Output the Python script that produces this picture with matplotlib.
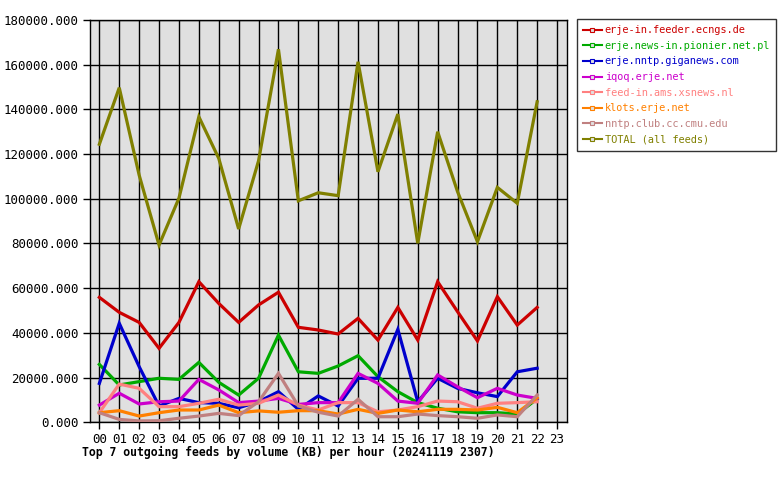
import matplotlib
matplotlib.use('Agg')
import matplotlib.pyplot as plt
from matplotlib.lines import Line2D

hours = ['00', '01', '02', '03', '04', '05', '06', '07', '08', '09', '10', '11',
         '12', '13', '14', '15', '16', '17', '18', '19', '20', '21', '22', '23']

feeds = ['erje-in.feeder.ecngs.de', 'erje.news-in.pionier.net.pl',
         'erje.nntp.giganews.com', 'iqoq.erje.net', 'feed-in.ams.xsnews.nl',
         'klots.erje.net', 'nntp.club.cc.cmu.edu', 'TOTAL (all feeds)']
colors = ['#cc0000', '#00aa00', '#0000cc', '#cc00cc', '#ff8080',
          '#ff8000', '#c08080', '#808000']

# KB per hour, hours 00..22
ecngs = [55900, 49200, 44700, 33100, 44700, 62900, 53200, 44700, 52500, 58200, 42500, 41300,
         39500, 46500, 36800, 51400, 36800, 62900, 49500, 36400, 56200, 43500, 51400]
pionier = [25900, 16700, 18200, 19700, 19200, 26800, 17900, 12200, 19700, 39000, 22600, 21900,
           25200, 29800, 20400, 13700, 8800, 6300, 4700, 4300, 4300, 3700, 10500]
giganews = [17400, 44300, 24900, 7300, 10700, 8800, 8500, 6500, 9200, 13700, 5800, 11800,
            7300, 19700, 19700, 41600, 9200, 19700, 15200, 13200, 11500, 22600, 24200]
iqoq = [7700, 13000, 8200, 9200, 9500, 19200, 14500, 8800, 9500, 10700, 8000, 8800,
        8800, 21900, 17400, 9500, 8500, 21200, 15900, 11000, 15200, 12200, 10700]
xsnews = [4300, 17100, 15200, 7000, 7000, 8500, 10300, 7700, 8500, 12200, 7700, 5500,
          8800, 8800, 4700, 5500, 7000, 9500, 9200, 6300, 8500, 8800, 9200]
klots = [4300, 5200, 2800, 4300, 5500, 5500, 7700, 4300, 5100, 4500, 5200, 5200,
         3700, 5800, 4000, 5500, 4700, 5800, 5800, 5500, 6700, 4300, 11000]
cmu = [4300, 1300, 600, 700, 1800, 2800, 4000, 3000, 9200, 21900, 7300, 4500,
       2800, 10300, 2500, 2500, 3700, 3000, 2500, 1800, 3300, 2500, 12200]
total = [124400, 149700, 110600, 79300, 100300, 136700, 118100, 86500, 117000, 166900, 99100, 102700,
         101400, 161300, 112100, 137900, 80100, 130000, 103200, 80800, 105100, 98000, 143400]

series = [ecngs, pionier, giganews, iqoq, xsnews, klots, cmu, total]
yticks = list(range(0, 180001, 20000))

mono = 'DejaVu Sans Mono'

fig = plt.figure(figsize=(7.8, 4.8), dpi=100)
ax = fig.add_axes([90 / 780, 1 - 422.3 / 480, 477 / 780, 402.3 / 480])
ax.set_facecolor('#e0e0e0')

x = list(range(len(total)))
for vals, col in zip(series, colors):
    ax.plot(x, vals, color=col, lw=2.3, solid_joinstyle='miter', zorder=3)

ax.set_xlim(-0.47, 23.5)
ax.set_ylim(0, 180000)
ax.set_xticks(range(len(hours)))
ax.set_xticklabels(hours, family=mono, fontsize=9)
ax.set_yticks(yticks)
ax.set_yticklabels(['%d.000' % v for v in yticks], family=mono, fontsize=9)
ax.grid(True, color='black', lw=1, zorder=1)
ax.set_axisbelow(True)
ax.tick_params(direction='out', length=5, width=1, color='black', pad=3)
for s in ax.spines.values():
    s.set_color('black')
    s.set_linewidth(1)

fig.text(82 / 780, 1 - 452 / 480, 'Top 7 outgoing feeds by volume (KB) per hour (20241119 2307)',
         family=mono, fontsize=8.3, fontweight='bold', va='center', ha='left')

handles = [Line2D([], [], color=c, lw=1.5, marker='s', markersize=3,
                  markerfacecolor='#e0e0e0', markeredgecolor=c, markeredgewidth=0.8)
           for c in colors]
leg = fig.legend(handles, feeds, loc='upper left', bbox_to_anchor=(577 / 780, 1 - 19 / 480),
                 frameon=True, fancybox=False, prop={'family': mono, 'size': 7.4},
                 handlelength=1.8, handletextpad=0.3, labelspacing=0.55,
                 borderpad=0.6, borderaxespad=0)
leg.get_frame().set_edgecolor('black')
leg.get_frame().set_linewidth(1)
for t, c in zip(leg.get_texts(), colors):
    t.set_color(c)

fig.savefig('out.png', dpi=100)
